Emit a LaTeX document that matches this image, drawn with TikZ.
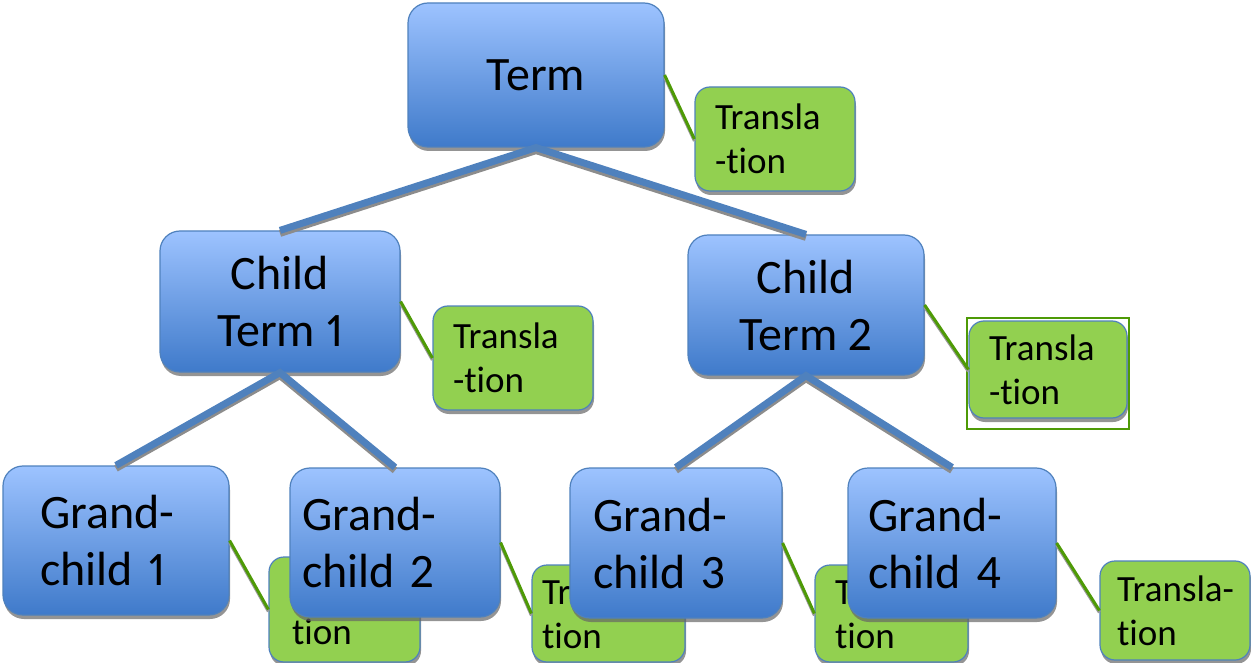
\documentclass[tikz,border=0pt]{standalone}
\usepackage{fontspec}
\setmainfont{Carlito}[Ligatures=NoCommon, Numbers=Proportional]
\usetikzlibrary{shadows}
\definecolor{termtop}{HTML}{9DC3FF}
\definecolor{termbot}{HTML}{3F7ACA}
\definecolor{termedge}{HTML}{4F81BD}
\definecolor{translfill}{HTML}{92D050}
\definecolor{linkgreen}{HTML}{4E9A06}

\begin{document}
\begin{tikzpicture} [x=1pt, y=-1pt,
          termbox/.style = {draw=termedge, line width=1.2pt, rounded corners=20pt,
            top color=termtop, bottom color=termbot, inner ysep=0pt,
            font=\fontsize{48}{57}\selectfont,
            drop shadow={shadow xshift=1pt, shadow yshift=-4pt, fill=black!60, opacity=.7}},
          translbox/.style = {draw=termedge, line width=1.2pt, rounded corners=15pt,
            fill=translfill, inner ysep=0pt, align=left,
            font=\fontsize{37}{44}\selectfont,
            drop shadow={shadow xshift=1pt, shadow yshift=-4pt, fill=black!60, opacity=.7}},
          branch/.style = {draw=termedge, line width=7pt, line join=miter,
            preaction={draw=black!45, line width=7pt, transform canvas={yshift=-3pt}}},
          twig/.style = {draw=linkgreen, line width=3pt,
            preaction={draw=black!40, line width=3pt, transform canvas={yshift=-2pt}}}
          ]
          \useasboundingbox (0,0) rectangle (1251,663);
          % translations
          \node[translbox, text width=120pt, inner xsep=20pt, minimum height=104pt] (tr0) at (775,139) {Transla\\-tion};
          \node[translbox, text width=120pt, inner xsep=20pt, minimum height=104pt] (tr1) at (513,358) {Transla\\-tion};
          \node[translbox, text width=118pt, inner xsep=20pt, minimum height=97pt] (tr2) at (1048,369.5) {Transla\\-tion};
          \node[translbox, text width=105pt, inner xsep=23pt, minimum height=105pt] (tr11) at (344.5,609.5) {\mbox{Transla-}\\tion};
          \node[translbox, text width=133pt, inner xsep=10pt, minimum height=97pt] (tr12) at (608.5,613.5) {\mbox{Transla-}\\tion};
          \node[translbox, text width=113pt, inner xsep=20pt, minimum height=97pt] (tr21) at (891.5,613.5) {\mbox{Transla-}\\tion};
          \node[translbox, text width=116pt, inner xsep=17pt, minimum height=99pt] (tr22) at (1175,610.5) {\mbox{Transla-}\\tion};
          \draw[linkgreen, line width=1.5pt] (967,318) rectangle (1129,429);
          % terms
          \node[termbox, align=center, minimum width=256pt, minimum height=144pt] (term) at (536,75) {Term};
          \node[termbox, align=center, minimum width=240pt, minimum height=141pt] (ch1) at (280,301.5) {Child\\Term 1};
          \node[termbox, align=center, minimum width=236pt, minimum height=140pt] (ch2) at (806,305) {Child\\Term 2};
          \node[termbox, align=left, text width=152pt, inner xsep=37pt, minimum height=149pt] (gc1) at (116,540.5) {Grand-\\child 1};
          \node[termbox, align=left, text width=186pt, inner xsep=12pt, minimum height=149pt] (gc2) at (395,542.5) {Grand-\\child 2};
          \node[termbox, align=left, text width=166pt, inner xsep=23pt, minimum height=150pt] (gc3) at (676,543) {Grand-\\child 3};
          \node[termbox, align=left, text width=168pt, inner xsep=20pt, minimum height=150pt] (gc4) at (952,543) {Grand-\\child 4};
          % connectors
          \draw[branch] (ch1.north) -- (term.south) -- (ch2.north);
          \draw[branch] (gc1.north) -- (ch1.south) -- (gc2.north);
          \draw[branch] (gc3.north) -- (ch2.south) -- (gc4.north);
          \draw[twig] (term.east) -- (tr0.west);
          \draw[twig] (ch1.east) -- (tr1.west);
          \draw[twig] (ch2.east) -- (tr2.west);
          \draw[twig] (gc1.east) -- (tr11.west);
          \draw[twig] (gc2.east) -- (tr12.west);
          \draw[twig] (gc3.east) -- (tr21.west);
          \draw[twig] (gc4.east) -- (tr22.west);
        \end{tikzpicture}
\end{document}
